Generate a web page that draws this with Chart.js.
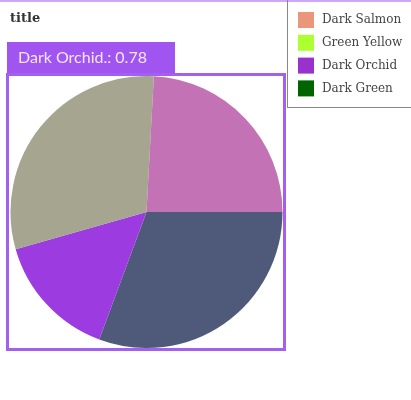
<!DOCTYPE html>
<html>
<head>
<meta charset="utf-8">
<script src="https://cdn.jsdelivr.net/npm/chart.js@4"></script>
<style>
  html, body { margin: 0; padding: 0; background: #fff; }
  #wrap { width: 411px; height: 400px; }
</style>
</head>
<body>
<div id="wrap"><canvas id="pie" width="411" height="400"></canvas></div>
<script>
// legend order (top to bottom)
const labels = ['Dark Salmon', 'Green Yellow', 'Dark Orchid', 'Dark Green'];
const values = [1.26, 1.58, 0.78, 1.60];
const legendColors = ['#e9967a', '#adff2f', '#9932cc', '#006400'];
// slices as drawn while Dark Orchid is hovered (others dimmed)
const sliceColors = ['#c373b5', '#a6a590', '#9b3be0', '#4f5a7a'];
const hovered = 2;

// the reference runs counter-clockwise from 3 o'clock, so feed the pie reversed
const pieLabels = labels.slice().reverse();
const pieValues = values.slice().reverse();
const pieColors = sliceColors.slice().reverse();

const decorations = {
    id: 'decorations',
    beforeDraw(chart) {
        const ctx = chart.ctx;
        ctx.save();
        ctx.fillStyle = '#cfa6f5';
        ctx.fillRect(0, 0, 411, 2);
        ctx.fillStyle = '#333';
        ctx.font = 'bold 13px "DejaVu Serif"';
        ctx.textBaseline = 'alphabetic';
        ctx.fillText('title', 10, 22);
        ctx.restore();
    },
    afterDraw(chart) {
        const ctx = chart.ctx;
        ctx.save();
        // legend box
        ctx.strokeStyle = '#888';
        ctx.lineWidth = 1;
        ctx.strokeRect(287.5, -1, 130, 108.5);
        ctx.font = '12px "DejaVu Serif"';
        ctx.textBaseline = 'middle';
        labels.forEach((l, i) => {
            const y = 12 + i * 22.8;
            ctx.fillStyle = legendColors[i];
            ctx.fillRect(298, y, 16, 16);
            ctx.fillStyle = '#444';
            ctx.fillText(l, 322, y + 8);
        });
        // hover box around the pie
        ctx.strokeStyle = '#a35ff0';
        ctx.lineWidth = 3;
        ctx.strokeRect(7.5, 74.5, 277, 275);
        // tooltip
        ctx.fillStyle = '#a155f0';
        ctx.fillRect(7, 42, 168, 31);
        ctx.fillStyle = '#f3e6ff';
        ctx.font = '16px Lato';
        ctx.fillText(labels[hovered] + '.: ' + values[hovered].toFixed(2), 18, 58);
        ctx.restore();
    }
};

new Chart(document.getElementById('pie').getContext('2d'), {
    type: 'pie',
    data: {
        labels: pieLabels,
        datasets: [{
            data: pieValues,
            backgroundColor: pieColors,
            borderWidth: 0
        }]
    },
    options: {
        responsive: false,
        animation: false,
        rotation: 90,
        layout: { padding: { left: 10, right: 128, top: 76, bottom: 52 } },
        plugins: {
            legend: { display: false },
            title: { display: false },
            tooltip: { enabled: false }
        },
        events: []
    },
    plugins: [decorations]
});
</script>
</body>
</html>
